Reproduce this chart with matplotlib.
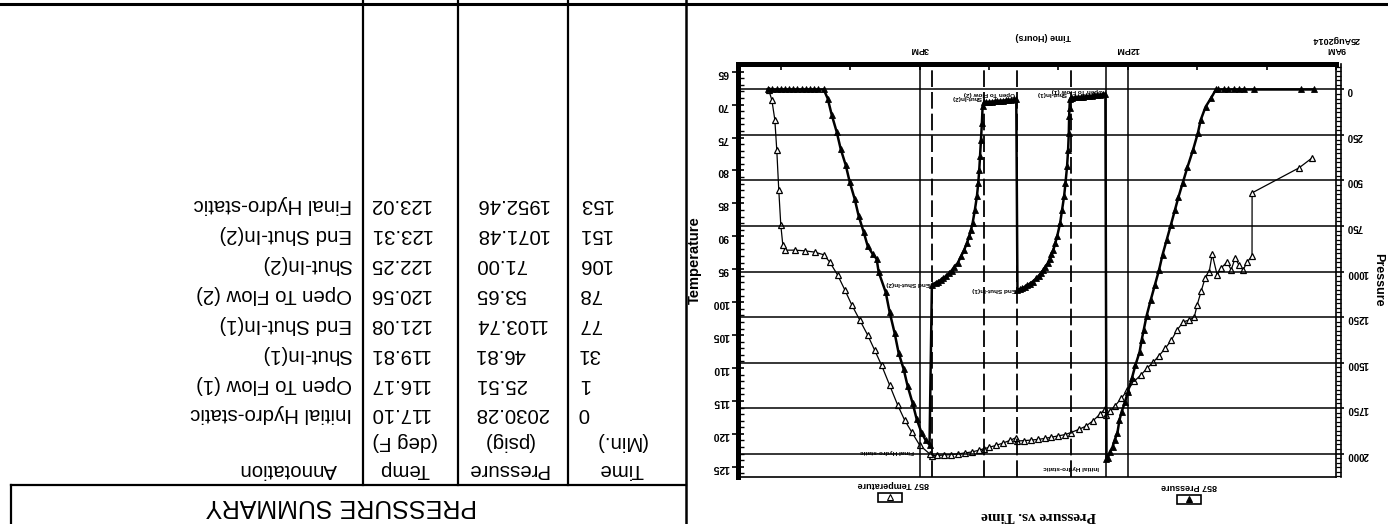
import matplotlib
matplotlib.use("Agg")
import matplotlib.pyplot as plt
from matplotlib.lines import Line2D
from matplotlib.patches import Rectangle

plt.rcParams['font.family'] = ['Liberation Sans', 'DejaVu Sans']
plt.rcParams['lines.scale_dashes'] = False

# ---------------- pressure summary table ----------------
summary_min = [0, 1, 31, 77, 78, 106, 151, 153]
summary_psig = [2030.28, 25.51, 46.81, 1103.74, 53.65, 71.00, 1071.48, 1952.46]
summary_degf = [117.10, 116.17, 119.81, 121.08, 120.56, 122.25, 123.31, 123.02]
summary_note = ['Initial Hydro-static', 'Open To Flow (1)', 'Shut-In(1)',
                'End Shut-In(1)', 'Open To Flow (2)', 'Shut-In(2)',
                'End Shut-In(2)', 'Final Hydro-static']

# clock time (hours) of the initial hydrostatic reading
start_clock = 12.307

# ---------------- gauge data (clock hours) ----------------
press_t = [9.32, 9.51, 10.18, 10.33, 10.40, 10.47, 10.55, 10.62, 10.70,
           10.73, 10.80, 10.88, 10.95, 10.99, 11.06, 11.14, 11.21, 11.27,
           11.32, 11.38, 11.44, 11.50, 11.55, 11.61, 11.67, 11.73, 11.77,
           11.80, 11.83, 11.89, 11.94, 12.00, 12.04, 12.09, 12.12, 12.15,
           12.19, 12.22, 12.26, 12.29, 12.307,
           12.323, 12.36, 12.40, 12.44, 12.48, 12.52, 12.56, 12.60, 12.64,
           12.68, 12.72, 12.76, 12.80, 12.823,
           12.835, 12.840, 12.845, 12.850, 12.860, 12.875, 12.898, 12.918,
           12.947, 12.975, 13.018, 13.045, 13.072, 13.10, 13.125, 13.153,
           13.19, 13.22, 13.248, 13.28, 13.32, 13.368, 13.41, 13.45, 13.488,
           13.53, 13.56, 13.590,
           13.607, 13.64, 13.68, 13.72, 13.76, 13.80, 13.84, 13.88, 13.92,
           13.96, 14.00, 14.04, 14.073,
           14.092, 14.102, 14.116, 14.131, 14.140, 14.155, 14.174, 14.203,
           14.236, 14.26, 14.284, 14.32, 14.356, 14.40, 14.452, 14.50, 14.54,
           14.572, 14.62, 14.66, 14.692, 14.73, 14.77, 14.823,
           14.857, 14.914, 14.971, 15.043, 15.101, 15.173, 15.230, 15.302,
           15.360, 15.432, 15.489, 15.590, 15.619, 15.676, 15.748, 15.806,
           15.878, 15.935, 16.007, 16.065, 16.137, 16.194, 16.266, 16.324,
           16.381, 16.46, 16.52, 16.58, 16.64, 16.70, 16.76, 16.82, 16.88,
           16.94, 17.00, 17.06, 17.12, 17.19]
press_psi = [0, 0, 0, 0, 0, 0, 0, 0, 0,
             0, 47, 96, 168, 239, 332, 426, 514, 591,
             662, 745, 827, 909, 992, 1074, 1157, 1245, 1321,
             1376, 1442, 1514, 1585, 1662, 1717, 1772, 1816, 1887,
             1926, 1964, 1992, 2025, 2030.28,
             25.51, 27, 29, 31, 33, 34.5, 36, 38, 39.5,
             41, 42.5, 44, 46, 46.81,
             55, 100, 147, 238, 330, 422, 514, 587,
             660, 734, 807, 845, 881, 905, 930, 954,
             975, 993, 1009, 1022, 1038, 1055, 1066, 1076, 1085,
             1093, 1098, 1103.74,
             53.65, 55, 56.5, 58, 59.5, 61, 62.5, 64, 65.5,
             67, 68.5, 70, 71.00,
             92, 183, 275, 367, 440, 514, 587, 660,
             734, 770, 807, 845, 880, 915, 954, 975, 995,
             1009, 1025, 1036, 1045, 1055, 1062, 1071.48,
             1952.46, 1926, 1887, 1810, 1723, 1629, 1536, 1448,
             1338, 1223, 1113, 1003, 931, 904, 860, 783,
             695, 602, 508, 415, 327, 234, 140, 50,
             0, 0, 0, 0, 0, 0, 0, 0, 0,
             0, 0, 0, 0, 0]

temp_t = [9.345, 9.532, 10.209, 10.21, 10.281, 10.338, 10.396, 10.453, 10.511,
          10.568, 10.655, 10.712, 10.784, 10.827, 10.885, 10.942, 11.0, 11.043,
          11.115, 11.201, 11.288, 11.374, 11.460, 11.547, 11.633, 11.719,
          11.806, 11.906, 12.007, 12.094, 12.180, 12.252, 12.307,
          12.323, 12.40, 12.50, 12.60, 12.70, 12.823, 12.90, 13.00, 13.10,
          13.20, 13.30, 13.40, 13.50, 13.590, 13.607, 13.70, 13.80, 13.90,
          14.00, 14.073, 14.15, 14.25, 14.35, 14.45, 14.55, 14.65, 14.75,
          14.823, 14.857,
          15.0, 15.115, 15.216, 15.317, 15.432, 15.547, 15.647, 15.748,
          15.863, 15.978, 16.079, 16.180, 16.295, 16.381, 16.511, 16.655,
          16.799, 16.942, 16.971, 17.0, 17.029, 17.058, 17.086, 17.129, 17.173]
temp_f = [78.1, 79.6, 83.4, 93.0, 93.9, 95.1, 94.4, 93.3, 95.1,
          93.9, 94.8, 95.9, 92.7, 95.4, 96.3, 98.3, 100.4, 102.3,
          102.7, 103.0, 104.2, 105.8, 107.0, 108.1, 109.1, 110.0,
          111.0, 112.0, 113.4, 114.6, 115.7, 116.5, 117.10,
          116.17, 117.0, 118.0, 118.8, 119.3, 119.81, 120.1, 120.3, 120.5,
          120.7, 120.85, 120.95, 121.03, 121.08, 120.56, 121.0, 121.4, 121.75,
          122.05, 122.25, 122.5, 122.75, 122.9, 123.05, 123.15, 123.22, 123.28,
          123.31, 123.02,
          121.7, 119.7, 117.9, 115.6, 112.6, 109.6, 107.3, 105.0,
          102.7, 100.4, 98.1, 95.9, 93.9, 92.8, 92.4, 92.2,
          92.1, 92.1, 91.3, 88.3, 83.0, 76.9, 72.3, 69.3, 67.8]

# ---------------- page layout (pixel helpers) ----------------
W, H = 1388, 524
fig = plt.figure(figsize=(W / 100, H / 100), dpi=100)
fig.patch.set_facecolor('white')


def fx(px):
    return px / W


def fy(py):
    return 1 - py / H


def seg(x0, y0, x1, y1, lw=1.6):
    fig.add_artist(Line2D([fx(x0), fx(x1)], [fy(y0), fy(y1)], color='black', lw=lw))


def flip_text(x, y, s, size, ha='center', **kw):
    # the scanned page is upside down, so every text is turned by 180 degrees
    fig.text(fx(x), fy(y), s, rotation=180, ha=ha, va='center', fontsize=size, **kw)


# ---------------- table (left half of the page) ----------------
seg(0, 4, W, 4, 2.2)
seg(686, 0, 686, H, 1.8)
for xcol in (363, 458, 568):
    seg(xcol, 0, xcol, 485)
seg(11, 485, 686, 485)
seg(11, 485, 11, H)

flip_text(341, 506, 'PRESSURE SUMMARY', 18)
flip_text(621, 469, 'Time', 14.7)
flip_text(621, 441, '(Min.)', 14.7)
flip_text(508, 469, 'Pressure', 14.7)
flip_text(508, 441, '(psig)', 14.7)
flip_text(405, 469, 'Temp', 14.7)
flip_text(405, 441, '(deg F)', 14.7)
flip_text(337, 469, 'Annotation', 14.7, ha='right')

for i in range(len(summary_min)):
    yrow = 414 - i * 29.9
    flip_text(578, yrow, str(summary_min[i]), 14.7, ha='left')
    flip_text(475, yrow, f'{summary_psig[i]:.2f}', 14.7, ha='left')
    flip_text(369, yrow, f'{summary_degf[i]:.2f}', 14.7, ha='left')
    flip_text(352, yrow, summary_note[i], 14.7, ha='right')

# ---------------- chart (right half, drawn rotated) ----------------
L, R, T, B = 738, 1336, 64, 477
px_per_hour = 69.4
ax = fig.add_axes([fx(L), fy(B), fx(R) - fx(L), fy(T) - fy(B)])
ax2 = ax.twinx()
ax.set_xlim(9 + (R - L) / px_per_hour, 9.0)
ax.set_ylim(126.55, 63.83)
ax2.set_ylim(2129, -140)
ax.set_facecolor('white')

bold = dict(fontweight='bold')

# temperature axis (left on the page)
ax.set_yticks(range(65, 126, 5), [str(v) for v in range(65, 126, 5)],
              rotation=180, fontsize=7.5, **bold)
ax.set_yticks(range(64, 127), minor=True)
ax.tick_params(axis='y', which='major', direction='inout', length=9, width=1.2, pad=2)
ax.tick_params(axis='y', which='minor', direction='in', length=4, width=1)

# time axis (top on the page)
ax.xaxis.tick_top()
ax.set_xticks([9, 12, 15], ['9AM\n25Aug2014', '12PM', '3PM'],
              rotation=180, fontsize=6.5, **bold)
ax.set_xticks(range(10, 18), minor=True)
ax.tick_params(axis='x', which='both', direction='in', length=4.5, width=1.2, pad=7)

# pressure axis (right on the page)
ax2.set_yticks(range(0, 2001, 250), [str(v) for v in range(0, 2001, 250)],
               rotation=180, fontsize=7, **bold)
ax2.set_yticks(range(-125, 2126, 25), minor=True)
ax2.tick_params(axis='y', which='major', direction='out', length=5.8, width=1.2, pad=2)
ax2.tick_params(axis='y', which='minor', direction='out', length=3.6, width=0.9)

for side in ('top', 'bottom', 'left', 'right'):
    ax2.spines[side].set_visible(side == 'right')
ax.spines['right'].set_visible(False)
ax.spines['top'].set_linewidth(3.6)
ax.spines['left'].set_linewidth(3.6)
ax.spines['bottom'].set_linewidth(1.2)
ax2.spines['right'].set_linewidth(1.2)
ax2.plot([1 + 5 / (R - L)] * 2, [0, 1], transform=ax2.transAxes, clip_on=False,
         color='black', lw=1.2)

# grid
for p in range(0, 2001, 250):
    ax2.axhline(p, color='black', lw=1.1, zorder=1)
for hour in (12, 15):
    ax2.axvline(hour, color='black', lw=1.1, zorder=1)
event_t = [start_clock + m / 60 for m in summary_min]
ax2.axvline(event_t[0], color='black', lw=1.1, zorder=1)
for k in (2, 3, 5, 6):
    ax2.axvline(event_t[k], color='black', lw=1.3, dashes=(12, 3.6), zorder=1)

# curves
ax.plot(temp_t, temp_f, color='black', lw=0.9, marker='^', ms=5,
        mfc='white', mec='black', mew=0.9, zorder=2)
ax2.plot(press_t, press_psi, color='black', lw=1.8, marker='^', ms=5,
         mfc='black', mec='black', mew=0.6, zorder=3)

# event annotations
label_offsets = [(-5.5, -5.8), (-1.5, 2.5), (-2.5, 3.0), (-1.2, 0.3),
                 (-1.0, 4.0), (-1.3, 3.5), (-1.3, 0.8), (-11.5, -4.5)]
for k, note in enumerate(summary_note):
    ax2.annotate(note, (event_t[k], summary_psig[k]), xytext=label_offsets[k],
                 textcoords='offset points', rotation=180, ha='right', va='center',
                 fontsize=4.6, fontweight='bold', zorder=4)

# axis titles, legend and chart title
fig.text(fx(695), fy(260), 'Temperature', rotation=90, ha='center', va='center',
         fontsize=10.5, fontweight='bold')
fig.text(fx(1378), fy(280), 'Pressure', rotation=270, ha='center', va='center',
         fontsize=9, fontweight='bold')
flip_text(1043, 37, 'Time (Hours)', 6.5, **bold)

flip_text(893, 484, '857 Temperature', 6.5, **bold)
flip_text(1189, 487, '857 Pressure', 6.5, **bold)
for cx, cy, face in ((890, 497, 'white'), (1189, 499, 'black')):
    fig.add_artist(Rectangle((fx(cx - 12), fy(cy + 4.5)), 24 / W, 9 / H, fill=False,
                             lw=1.2, ec='black', transform=fig.transFigure))
    fig.add_artist(Line2D([fx(cx)], [fy(cy)], marker='^', ms=4.5, mfc=face, mec='black',
                          mew=0.8, lw=0))

fig.text(fx(1039), fy(515), 'Pressure vs. Time', rotation=180, ha='center', va='center',
         fontsize=11, fontweight='bold', family=['Liberation Serif', 'DejaVu Serif'])

fig.savefig('out.png', dpi=100)
